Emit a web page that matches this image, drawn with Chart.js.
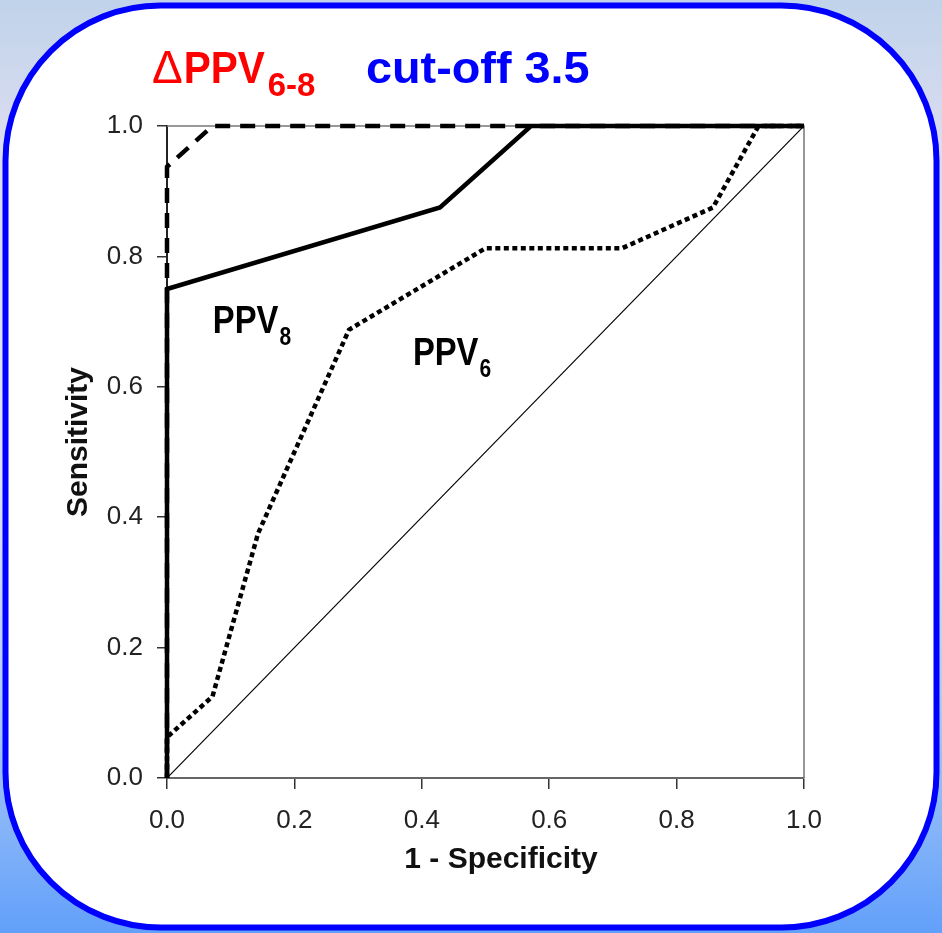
<!DOCTYPE html>
<html>
<head>
<meta charset="utf-8">
<script src="https://cdn.jsdelivr.net/npm/chart.js@4"></script>
<style>
    html, body { margin: 0; padding: 0; background: #c3d5ea; }
    canvas { display: block; }
</style>
</head>
<body>
<canvas id="rocChart" width="942" height="933"></canvas>
<script>
// Curvas ROC (1 - especificidad, sensibilidad)
const ppv8X = [0, 0, 0.4286, 0.5714, 1];
const ppv8Y = [0, 0.75, 0.875, 1, 1];

const dppvX = [0, 0, 0.0714, 1];
const dppvY = [0, 0.9375, 1, 1];

const ppv6X = [0, 0, 0.0714, 0.1429, 0.2857, 0.5, 0.7143, 0.8571, 0.9286, 1];
const ppv6Y = [0, 0.0625, 0.125, 0.375, 0.6875, 0.8125, 0.8125, 0.875, 1, 1];

const refX = [0, 1];
const refY = [0, 1];

const tickValues = [0, 0.2, 0.4, 0.6, 0.8, 1.0];

const toPoints = (xs, ys) => xs.map((x, i) => ({ x: x, y: ys[i] }));

const boldFont = '"Liberation Sans", Arial, sans-serif';
const plainFont = '"Liberation Sans", Arial, sans-serif';

// texto con compresion horizontal (la fuente original es mas estrecha)
function drawText(ctx, text, x, y, font, sx) {
    ctx.save();
    ctx.font = font;
    ctx.translate(x, y);
    ctx.scale(sx, 1);
    ctx.fillText(text, 0, 0);
    const w = ctx.measureText(text).width * sx;
    ctx.restore();
    return w;
}

// Fondo, marco redondeado y textos
const framePlugin = {
    id: 'framePlugin',
    beforeDraw(chart) {
        const ctx = chart.ctx;
        const w = chart.width, h = chart.height;
        ctx.save();
        const grad = ctx.createLinearGradient(0, 0, 0, h);
        grad.addColorStop(0, '#c0d3ea');
        grad.addColorStop(0.15, '#dadcf0');
        grad.addColorStop(0.5, '#e2e4f5');
        grad.addColorStop(0.75, '#b0ccf6');
        grad.addColorStop(1, '#62a0fa');
        ctx.fillStyle = grad;
        ctx.fillRect(0, 0, w, h);

        ctx.beginPath();
        ctx.roundRect(5.5, 5.5, w - 11, h - 11, 155);
        ctx.fillStyle = '#ffffff';
        ctx.fill();
        ctx.lineWidth = 6;
        ctx.strokeStyle = '#0000ff';
        ctx.stroke();

        // titulo
        ctx.textBaseline = 'alphabetic';
        ctx.textAlign = 'left';
        ctx.fillStyle = '#ff0000';
        let x = 152;
        x += drawText(ctx, '\u0394', x, 83, '46px ' + plainFont, 1.0) + 1;
        x += drawText(ctx, 'PPV', x, 83, 'bold 45px ' + boldFont, 0.9) + 3;
        drawText(ctx, '6-8', x, 96, 'bold 33px ' + boldFont, 1.0);
        ctx.fillStyle = '#0000ff';
        drawText(ctx, 'cut-off 3.5', 366, 83, 'bold 45px ' + boldFont, 1.04);

        // titulos de ejes
        ctx.fillStyle = '#111111';
        ctx.textAlign = 'center';
        const area = chart.chartArea;
        drawText(ctx, '1 - Specificity', 501, 868, 'bold 30px ' + plainFont, 1);
        ctx.save();
        ctx.translate(87, (area.top + area.bottom) / 2 - 10);
        ctx.rotate(-Math.PI / 2);
        ctx.font = 'bold 30px ' + plainFont;
        ctx.fillText('Sensitivity', 0, 0);
        ctx.restore();
        ctx.restore();
    },
    beforeDatasetsDraw(chart) {
        const { ctx, chartArea } = chart;
        ctx.save();
        ctx.strokeStyle = '#777777';
        ctx.lineWidth = 1.5;
        ctx.beginPath();
        ctx.moveTo(chartArea.left, chartArea.top);
        ctx.lineTo(chartArea.right, chartArea.top);
        ctx.lineTo(chartArea.right, chartArea.bottom);
        ctx.stroke();
        ctx.restore();
    },
    afterDatasetsDraw(chart) {
        const ctx = chart.ctx;
        const xs = chart.scales.x, ys = chart.scales.y;
        const label = (main, sub, vx, vy) => {
            const px = xs.getPixelForValue(vx);
            const py = ys.getPixelForValue(vy);
            const wMain = drawText(ctx, main, px, py, 'bold 39px ' + boldFont, 0.84);
            drawText(ctx, sub, px + wMain + 1, py + 12, 'bold 25px ' + boldFont, 0.84);
        };
        ctx.save();
        ctx.fillStyle = '#000000';
        ctx.textAlign = 'left';
        ctx.textBaseline = 'alphabetic';
        label('PPV', '8', 0.072, 0.683);
        label('PPV', '6', 0.386, 0.633);
        ctx.restore();
    }
};

const ctx = document.getElementById('rocChart').getContext('2d');
const chart = new Chart(ctx, {
    type: 'line',
    data: {
        datasets: [
            {
                label: 'PPV8',
                data: toPoints(ppv8X, ppv8Y),
                borderColor: '#000000',
                borderWidth: 4.5,
                pointRadius: 0,
                tension: 0,
                fill: false,
                clip: false
            },
            {
                label: 'dPPV6-8',
                data: toPoints(dppvX, dppvY),
                borderColor: '#000000',
                borderWidth: 4.5,
                borderDash: [15, 10],
                pointRadius: 0,
                tension: 0,
                fill: false,
                clip: false
            },
            {
                label: 'PPV6',
                data: toPoints(ppv6X, ppv6Y),
                borderColor: '#000000',
                borderWidth: 4.5,
                borderDash: [5, 3.5],
                pointRadius: 0,
                tension: 0,
                fill: false,
                clip: false
            },
            {
                label: 'Referencia',
                data: toPoints(refX, refY),
                borderColor: '#000000',
                borderWidth: 1.2,
                pointRadius: 0,
                tension: 0,
                fill: false
            }
        ]
    },
    options: {
        responsive: false,
        animation: false,
        devicePixelRatio: 1,
        layout: {
            padding: { left: 0, top: 126, right: 138, bottom: 0 }
        },
        plugins: {
            legend: { display: false },
            title: { display: false },
            tooltip: { enabled: false }
        },
        scales: {
            x: {
                type: 'linear',
                min: 0,
                max: 1,
                afterFit: (scale) => { scale.height = 155; },
                afterBuildTicks: (scale) => { scale.ticks = tickValues.map(v => ({ value: v })); },
                border: { display: true, color: '#666666', width: 2 },
                grid: {
                    drawOnChartArea: false,
                    drawTicks: true,
                    tickLength: 11,
                    tickColor: '#333333',
                    lineWidth: 1.5
                },
                ticks: {
                    padding: 16,
                    color: '#222222',
                    font: { family: plainFont, size: 26 },
                    callback: (v) => v.toFixed(1)
                },
                title: { display: false }
            },
            y: {
                type: 'linear',
                min: 0,
                max: 1,
                afterFit: (scale) => { scale.width = 167; },
                afterBuildTicks: (scale) => { scale.ticks = tickValues.map(v => ({ value: v })); },
                border: { display: true, color: '#222222', width: 2 },
                grid: {
                    drawOnChartArea: false,
                    drawTicks: true,
                    tickLength: 10,
                    tickColor: '#333333',
                    lineWidth: 1.5
                },
                ticks: {
                    padding: 14,
                    color: '#222222',
                    font: { family: plainFont, size: 26 },
                    callback: (v) => v.toFixed(1)
                },
                title: { display: false }
            }
        }
    },
    plugins: [framePlugin]
});
</script>
</body>
</html>
